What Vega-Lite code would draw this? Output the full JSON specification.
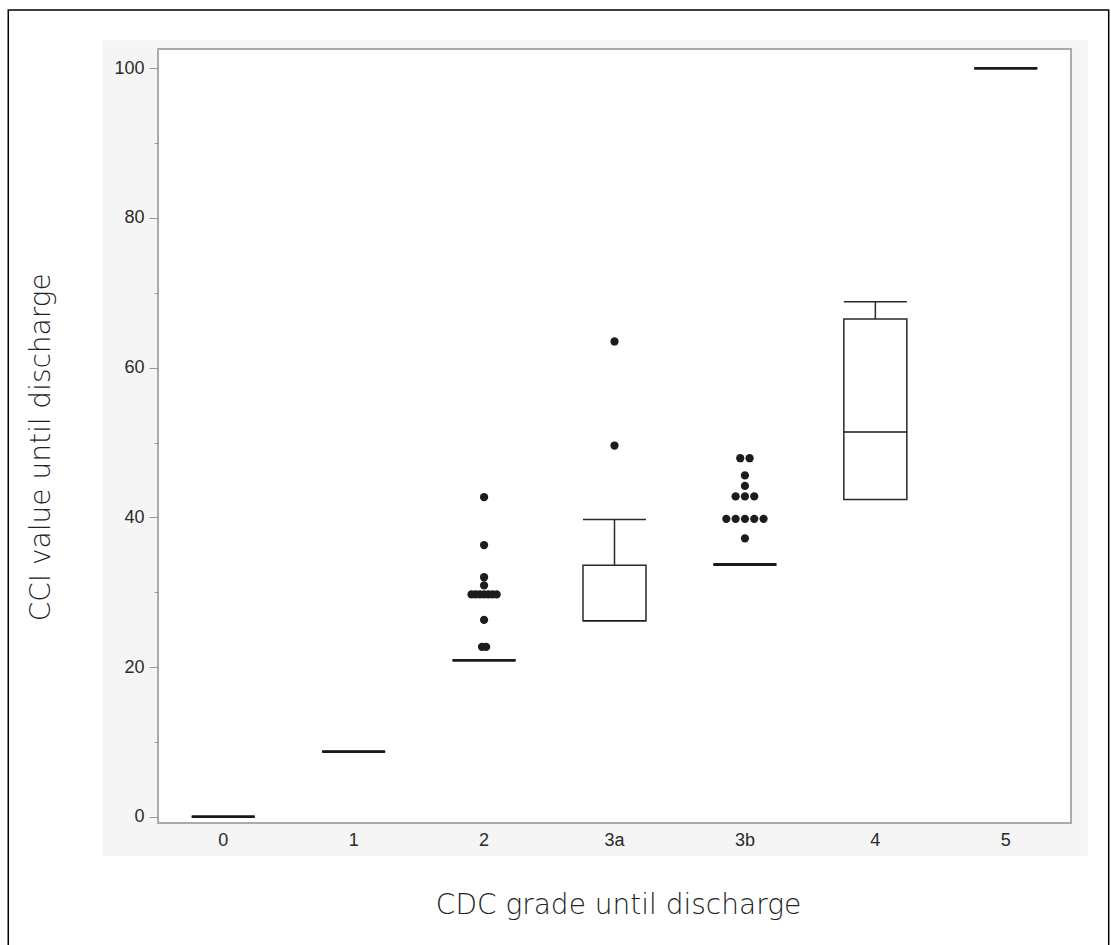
{
  "$schema": "https://vega.github.io/schema/vega-lite/v6.json",
  "width": 913,
  "height": 774,
  "autosize": {"type": "none"},
  "padding": {"left": 158, "top": 49, "right": 40, "bottom": 122},
  "background": "white",
  "config": {"view": {"stroke": null}},
  "datasets": {
    "summary": [
      {"grade": "0", "wlo": 0, "q1": 0, "median": 0, "q3": 0, "whi": 0},
      {"grade": "1", "wlo": 8.7, "q1": 8.7, "median": 8.7, "q3": 8.7, "whi": 8.7},
      {"grade": "2", "wlo": 20.9, "q1": 20.9, "median": 20.9, "q3": 20.9, "whi": 20.9},
      {"grade": "3a", "wlo": 26.2, "q1": 26.2, "median": 26.2, "q3": 33.6, "whi": 39.7},
      {"grade": "3b", "wlo": 33.7, "q1": 33.7, "median": 33.7, "q3": 33.7, "whi": 33.7},
      {"grade": "4", "wlo": 42.4, "q1": 42.4, "median": 51.4, "q3": 66.5, "whi": 68.8},
      {"grade": "5", "wlo": 100, "q1": 100, "median": 100, "q3": 100, "whi": 100}
    ],
    "points": [
      {"grade": "2", "cci": 42.7},
      {"grade": "2", "cci": 36.3},
      {"grade": "2", "cci": 32.0},
      {"grade": "2", "cci": 30.9},
      {"grade": "2", "cci": 29.7},
      {"grade": "2", "cci": 29.7},
      {"grade": "2", "cci": 29.7},
      {"grade": "2", "cci": 29.7},
      {"grade": "2", "cci": 29.7},
      {"grade": "2", "cci": 29.7},
      {"grade": "2", "cci": 29.7},
      {"grade": "2", "cci": 26.3},
      {"grade": "2", "cci": 22.7},
      {"grade": "2", "cci": 22.7},
      {"grade": "3a", "cci": 63.5},
      {"grade": "3a", "cci": 49.6},
      {"grade": "3b", "cci": 47.9},
      {"grade": "3b", "cci": 47.9},
      {"grade": "3b", "cci": 45.6},
      {"grade": "3b", "cci": 44.2},
      {"grade": "3b", "cci": 42.8},
      {"grade": "3b", "cci": 42.8},
      {"grade": "3b", "cci": 42.8},
      {"grade": "3b", "cci": 39.8},
      {"grade": "3b", "cci": 39.8},
      {"grade": "3b", "cci": 39.8},
      {"grade": "3b", "cci": 39.8},
      {"grade": "3b", "cci": 39.8},
      {"grade": "3b", "cci": 37.2}
    ]
  },
  "resolve": {"scale": {"x": "independent"}},
  "layer": [
    {
      "data": {"values": [{}]},
      "encoding": {
        "x": {"datum": 0, "type": "quantitative", "scale": {"domain": [0, 1], "nice": false, "zero": false}, "axis": null}
      },
      "layer": [
        {
          "mark": {"type": "rect", "fill": "#f5f5f5", "stroke": null},
          "encoding": {
            "x": {"datum": -0.0606, "type": "quantitative", "scale": {"domain": [0, 1], "nice": false, "zero": false}, "axis": null},
            "x2": {"datum": 1.0183},
            "y": {"datum": -5.25, "type": "quantitative"},
            "y2": {"datum": 103.76}
          }
        },
        {
          "mark": {"type": "rect", "fill": null, "stroke": "#000000", "strokeWidth": 1.5},
          "encoding": {
            "x": {"datum": -0.164, "type": "quantitative", "scale": {"domain": [0, 1], "nice": false, "zero": false}, "axis": null},
            "x2": {"datum": 1.0413},
            "y": {"datum": -18, "type": "quantitative"},
            "y2": {"datum": 107.8}
          }
        },
        {
          "mark": {"type": "rect", "fill": "#ffffff", "stroke": "#aaaaaa", "strokeWidth": 2},
          "encoding": {
            "x": {"datum": 0, "type": "quantitative", "scale": {"domain": [0, 1], "nice": false, "zero": false}, "axis": null},
            "x2": {"datum": 1},
            "y": {"datum": -0.84, "type": "quantitative"},
            "y2": {"datum": 102.58}
          }
        }
      ]
    },
    {
      "encoding": {
        "x": {
          "field": "grade",
          "type": "nominal",
          "sort": ["0", "1", "2", "3a", "3b", "4", "5"],
          "scale": {"domain": ["0", "1", "2", "3a", "3b", "4", "5"], "paddingInner": 0, "paddingOuter": 0},
          "axis": {
            "title": "CDC grade until discharge",
            "zindex": 2,
            "labelAngle": 0,
            "domain": false,
            "ticks": false,
            "labelPadding": 8,
            "labelFont": "Liberation Sans",
            "labelFontSize": 18,
            "labelColor": "#2a2a2a",
            "titleFont": "DejaVu Sans",
            "titleFontSize": 28,
            "titleFontWeight": 200,
            "titleColor": "#222222",
            "titleX": 460,
            "titleY": 82,
            "titleAlign": "center",
            "titleBaseline": "middle"
          }
        }
      },
      "layer": [
        {
          "data": {"name": "summary"},
          "transform": [{"filter": "datum.whi > datum.q3"}],
          "mark": {"type": "rule", "color": "#2a2a2a", "strokeWidth": 1.5},
          "encoding": {
            "y": {"field": "q3", "type": "quantitative"},
            "y2": {"field": "whi"}
          }
        },
        {
          "data": {"name": "summary"},
          "transform": [{"filter": "datum.whi > datum.q3"}],
          "mark": {"type": "bar", "width": 63, "fill": null, "stroke": "#2a2a2a", "strokeWidth": 1.5},
          "encoding": {
            "y": {"field": "whi", "type": "quantitative"},
            "y2": {"field": "whi"}
          }
        },
        {
          "data": {"name": "summary"},
          "transform": [{"filter": "datum.wlo < datum.q1"}],
          "mark": {"type": "rule", "color": "#2a2a2a", "strokeWidth": 1.5},
          "encoding": {
            "y": {"field": "wlo", "type": "quantitative"},
            "y2": {"field": "q1"}
          }
        },
        {
          "data": {"name": "summary"},
          "mark": {"type": "bar", "width": 63, "fill": "#ffffff", "stroke": "#2a2a2a", "strokeWidth": 1.5},
          "encoding": {
            "y": {
              "field": "q1",
              "type": "quantitative",
              "scale": {"domain": [-0.84, 102.58], "nice": false, "zero": false},
              "axis": {
                "title": "CCI value until discharge",
                "zindex": 2,
                "values": [0, 5, 10, 15, 20, 25, 30, 35, 40, 45, 50, 55, 60, 65, 70, 75, 80, 85, 90, 95, 100],
                "labelExpr": "datum.value % 20 === 0 ? datum.label : ''",
                "tickSize": {"condition": {"test": "datum.value % 20 === 0", "value": 9}, "value": 4},
                "tickColor": "#999999",
                "tickWidth": 1,
                "domain": false,
                "grid": false,
                "labelPadding": 5,
                "labelFont": "Liberation Sans",
                "labelFontSize": 18,
                "labelColor": "#2a2a2a",
                "titleFont": "DejaVu Sans",
                "titleFontSize": 28,
                "titleFontWeight": 200,
                "titleColor": "#222222",
                "titleAngle": -90,
                "titleX": -116.6,
                "titleY": 397.7,
                "titleAlign": "center",
                "titleBaseline": "middle"
              }
            },
            "y2": {"field": "q3"}
          }
        },
        {
          "data": {"name": "summary"},
          "mark": {"type": "bar", "width": 63, "fill": null, "stroke": "#1a1a1a"},
          "encoding": {
            "y": {"field": "median", "type": "quantitative"},
            "y2": {"field": "median"},
            "strokeWidth": {"condition": {"test": "datum.q1 === datum.q3", "value": 2.8}, "value": 1.5}
          }
        },
        {
          "data": {"name": "points"},
          "transform": [
            {"window": [{"op": "row_number", "as": "k"}, {"op": "count", "as": "n"}], "groupby": ["grade", "cci"], "frame": [null, null]},
            {"calculate": "(datum.k - (datum.n + 1) / 2) * (datum.grade === '2' ? 0.45 : 1)", "as": "slot"}
          ],
          "mark": {"type": "circle", "size": 68, "opacity": 1, "color": "#1c1c1c"},
          "encoding": {
            "y": {"field": "cci", "type": "quantitative"},
            "xOffset": {"field": "slot", "type": "quantitative", "scale": {"domain": [-7, 7]}}
          }
        }
      ]
    }
  ]
}
